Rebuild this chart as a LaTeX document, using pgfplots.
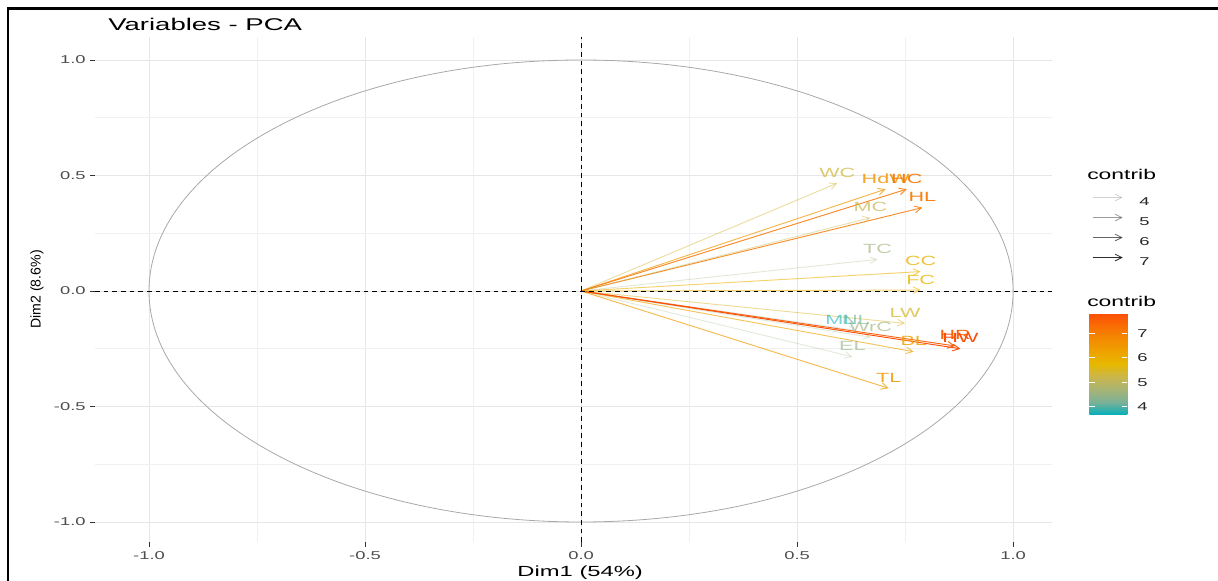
\documentclass[border=0pt]{standalone}
\usepackage{fontspec}
\setmainfont{Liberation Sans}[FakeStretch=1.62]
\newfontfamily\uprightsans{Liberation Sans}
\usepackage{pgfplots}
\pgfplotsset{compat=1.18}
\usepackage{pgfplotstable}
\usetikzlibrary{arrows.meta,calc}
\pgfkeys{/pgf/number format/assume math mode=true}

\definecolor{gridmajor}{HTML}{E6E6E6}
\definecolor{gridminor}{HTML}{F0F0F0}
\definecolor{ticktext}{HTML}{4D4D4D}
\definecolor{tickmark}{HTML}{333333}
\definecolor{circlegray}{HTML}{A8A8A8}

% teal -> yellow -> orange-red, interpolated through muted tones
\pgfplotsset{colormap={contribmap}{
  rgb255=(0,175,187) rgb255=(122,177,152) rgb255=(168,180,116) rgb255=(202,182,76)
  rgb255=(231,184,0) rgb255=(238,162,0) rgb255=(244,138,1) rgb255=(249,109,4)
  rgb255=(252,78,7)}}

% variable coordinates on Dim1/Dim2 and their contribution (%)
\pgfplotstableread{
x      y       contrib name
0.593  0.467   5.36    WC
0.705  0.441   6.50    HdW
0.754  0.441   7.17    HC
0.790  0.361   7.09    HL
0.670  0.317   5.16    MC
0.686  0.137   4.60    TC
0.786  0.084   5.87    CC
0.786  0.004   5.81    FC
0.750  -0.140  5.47    LW
0.600  -0.170  3.66    ML
0.636  -0.170  4.07    NL
0.670  -0.200  4.60    WrC
0.628  -0.285  4.47    EL
0.770  -0.263  6.22    BL
0.712  -0.421  6.43    TL
0.866  -0.238  7.58    HR
0.878  -0.250  7.83    HW
}\pcavars

\begin{document}
\begin{tikzpicture}
\path[use as bounding box] (0,0) rectangle (913.5pt,435.75pt);
\begin{axis}[
  at={(71.25pt,29.25pt)}, anchor=south west,
  scale only axis, width=717.75pt, height=378.75pt,
  xmin=-1.125, xmax=1.09, ymin=-1.0866, ymax=1.0996,
  axis line style={draw=none},
  xtick={-1,-0.5,0,0.5,1}, ytick={-1,-0.5,0,0.5,1},
  minor xtick={-0.75,-0.25,0.25,0.75}, minor ytick={-0.75,-0.25,0.25,0.75},
  grid=both,
  major grid style={draw=gridmajor, line width=0.55pt},
  minor grid style={draw=gridminor, line width=0.4pt},
  xtick pos=left, ytick pos=left,
  tick align=outside, major tick length=3.5pt, minor tick length=0pt,
  major tick style={draw=tickmark, line width=0.5pt},
  tick label style={font=\fontsize{8.5}{10}\selectfont, text=ticktext},
  xticklabel style={/pgf/number format/fixed, /pgf/number format/fixed zerofill, /pgf/number format/precision=1},
  yticklabel style={/pgf/number format/fixed, /pgf/number format/fixed zerofill, /pgf/number format/precision=1},
  xlabel={Dim1 (54\%)},
  ylabel={Dim2 (8.6\%)},
  xlabel style={at={(axis description cs:0.507,-0.069)}, anchor=base, inner sep=0pt, font=\fontsize{11}{13}\selectfont},
  ylabel style={at={(axis description cs:-0.0606,0.5)}, anchor=center, inner sep=0pt, font=\uprightsans\fontsize{10.6}{12}\selectfont},
  colormap name=contribmap,
  point meta min=3.66, point meta max=7.83,
  colorbar,
  colorbar/width=28.5pt,
  colorbar style={
    at={($(parent axis.south east)+(19.5pt,171.75pt)$)}, anchor=north west,
    height=76.5pt,
    ytick={4,5,6,7}, yticklabel pos=right,
    axis line style={draw=none},
    major tick style={draw=white, line width=0.6pt},
    major tick length=4pt, tick align=inside,
    yticklabel style={font=\fontsize{8.5}{10}\selectfont, text=black!85, xshift=4pt},
  },
  legend image code/.code={\draw[#1, -{Straight Barb[length=5pt,width=5pt]}, line width=0.6pt] (0pt,2.8pt) -- (22.5pt,2.8pt);},
  legend style={at={(1.0418,0.69)}, anchor=north west, draw=none, fill=none, inner sep=0pt,
    font=\fontsize{8.5}{10}\selectfont, text=black!85, row sep=6.4pt,
    nodes={inner sep=0pt, text height=6pt, text depth=0pt},
    /tikz/every odd column/.append style={column sep=12pt}},
  legend cell align=left,
]
% correlation circle
\draw[circlegray, line width=0.6pt] (axis cs:0,0) ellipse [x radius=1, y radius=1];

% arrows from the origin, coloured and faded by contribution
\addplot[forget plot, point meta=\thisrow{contrib},
  quiver={u=\thisrow{x}, v=\thisrow{y}, colored=mapped color,
    every arrow/.append style={line width=0.7pt, -{Straight Barb[length=5pt,width=5pt]},
      /utils/exec={\pgfmathsetmacro\arrowop{0.1+0.9*\pgfplotspointmetatransformed/1000}},
      draw opacity=\arrowop}}]
  table[x expr=0, y expr=0] {\pcavars};

% variable names at the arrow tips, same colour scale as the arrows
\addplot[forget plot, only marks, mark=none, point meta=explicit symbolic,
  visualization depends on={\thisrow{contrib}\as\cval},
  nodes near coords,
  every node near coord/.append style={anchor=base, yshift=4.5pt, inner sep=0pt,
    font=\fontsize{10}{12}\selectfont,
    /utils/exec={\pgfmathtruncatemacro\cidx{(\cval-3.66)/4.17*1000}%
      \pgfplotscolormapdefinemappedcolor{\cidx}%
      \pgfmathsetmacro\labelop{0.55+0.45*\cidx/1000}},
    text=mapped color, text opacity=\labelop}]
  table[x=x, y=y, meta=name] {\pcavars};

% reference lines through the origin
\addplot[forget plot, black, line width=0.6pt, dash pattern=on 3.5pt off 3pt] coordinates {(0,-1.0866) (0,1.0996)};
\addplot[forget plot, black, line width=0.6pt, dash pattern=on 3.5pt off 3pt] coordinates {(-1.125,0) (1.09,0)};

% alpha legend
\addlegendimage{black, draw opacity=0.173}\addlegendentry{4}
\addlegendimage{black, draw opacity=0.389}\addlegendentry{5}
\addlegendimage{black, draw opacity=0.605}\addlegendentry{6}
\addlegendimage{black, draw opacity=0.82}\addlegendentry{7}
\end{axis}

\begin{scope}[x=0.75pt, y=-0.75pt, shift={(0,435.75pt)}]
  \draw[black, line width=1.9pt] (8,581) -- (8,8.5) -- (1218,8.5);
  \node[anchor=base west, inner sep=0pt, font=\fontsize{12.75}{14}\selectfont] at (108,31) {Variables - PCA};
  \node[anchor=base west, inner sep=0pt, font=\fontsize{10.6}{12}\selectfont] at (1087,180) {contrib};
  \node[anchor=base west, inner sep=0pt, font=\fontsize{10.6}{12}\selectfont] at (1087,307) {contrib};
\end{scope}
\end{tikzpicture}
\end{document}
